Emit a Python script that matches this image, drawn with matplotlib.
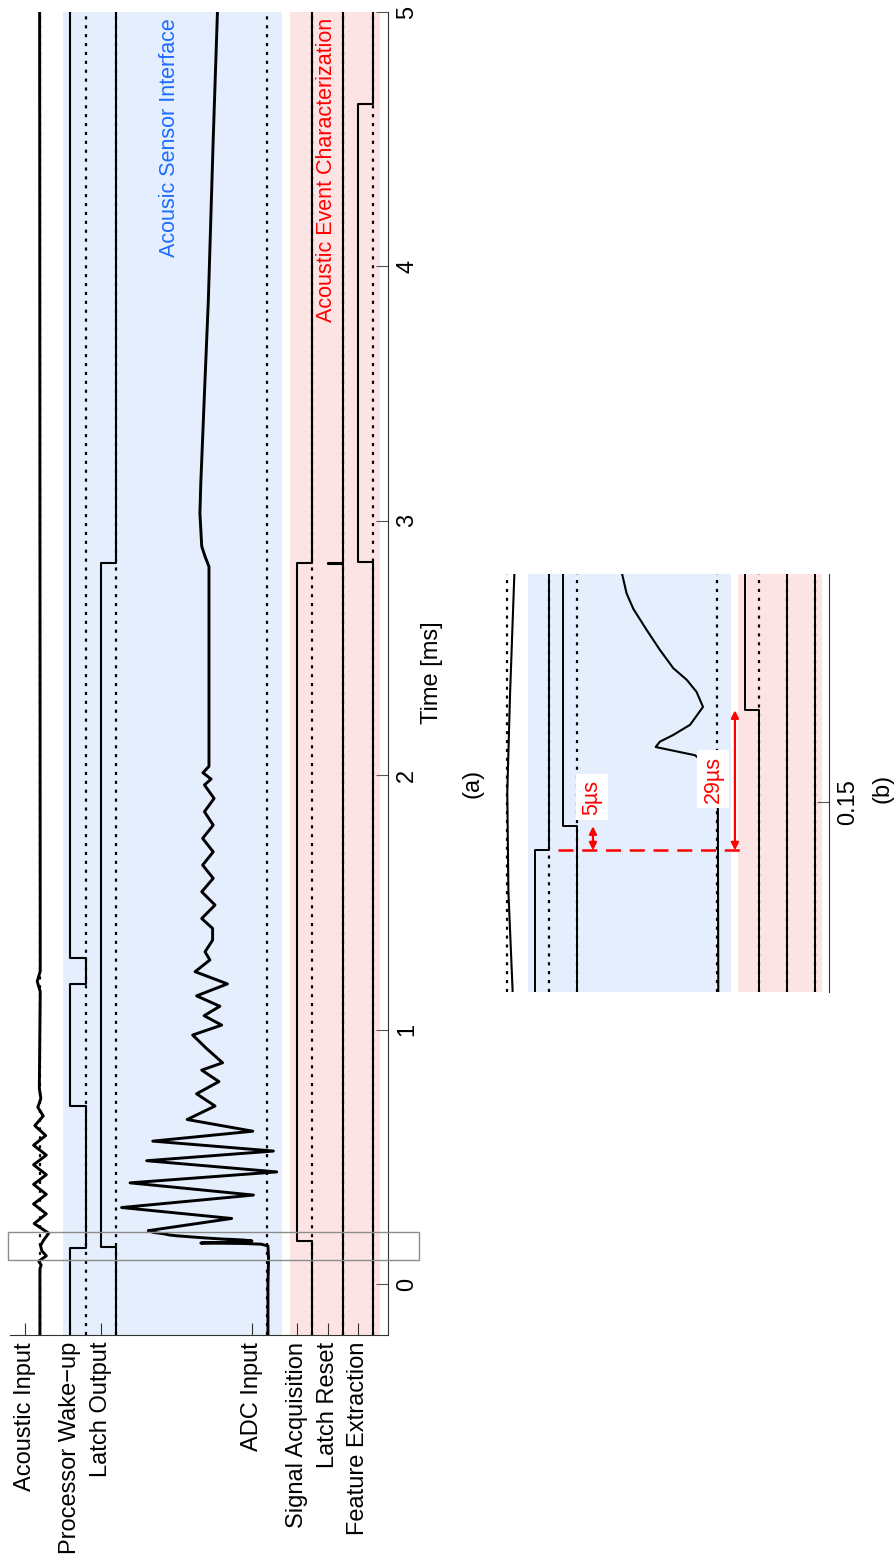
import numpy as np
import matplotlib
matplotlib.use("Agg")
import matplotlib.pyplot as plt
from matplotlib.patches import Rectangle

plt.rcParams["font.family"] = ["Liberation Sans", "DejaVu Sans"]

# channel rows (offset units) and their names
row_names = ["Acoustic Input", "Processor Wake\u2212up", "Latch Output", "ADC Input",
             "Signal Acquisition", "Latch Reset", "Feature Extraction"]
row_ticks = [12, 10.5, 9.5, 4.5, 3, 2, 1]
ref_levels = [11.5, 10, 9, 4, 2.5, 1.5, 0.5]

# event times [ms]
t_wake = 0.140
t_latch = 0.145
t_acq = 0.169

# digital lines: switching times and the level held after each one
wake_times = [-0.2, t_wake, 0.70, 1.18, 1.28, 5.0]
wake_levels = [10.5, 10, 10.5, 10, 10.5]
latch_times = [-0.2, t_latch, 2.833, 5.0]
latch_levels = [9, 9.5, 9]
acq_times = [-0.2, t_acq, 2.833, 5.0]
acq_levels = [2.5, 3, 2.5]
reset_times = [-0.2, 2.829, 2.835, 5.0]
reset_levels = [1.5, 2, 1.5]
feat_times = [-0.2, 2.839, 4.64, 5.0]
feat_levels = [0.5, 1, 0.5]

# microphone trace
mic_t = [-0.2, 0.06, 0.075, 0.09, 0.111, 0.1315, 0.152, 0.1725, 0.200, 0.238, 0.276,
         0.315, 0.353, 0.392, 0.430, 0.469, 0.507, 0.546, 0.584, 0.623, 0.661, 0.695,
         0.73, 0.77, 1.15, 1.19, 1.23, 5.0]
mic_v = [11.51, 11.51, 11.47, 11.55, 11.30, 11.45, 11.49, 11.39, 11.22, 11.70, 11.30,
         11.72, 11.30, 11.72, 11.30, 11.72, 11.30, 11.72, 11.32, 11.68, 11.40, 11.58,
         11.48, 11.53, 11.50, 11.60, 11.50, 11.52]

# ADC input trace
adc_t = [-0.2, 0.0, 0.10, 0.150, 0.157, 0.1597, 0.1614, 0.1625, 0.1639, 0.166, 0.1697,
         0.1728, 0.1753, 0.1777, 0.1815, 0.1856, 0.190, 0.1932, 0.1975, 0.203, 0.210,
         0.258, 0.301, 0.350, 0.398, 0.441, 0.485, 0.523, 0.562, 0.601, 0.647, 0.700,
         0.748, 0.796, 0.841, 0.870, 0.926, 0.979, 1.018, 1.055, 1.092, 1.133, 1.180,
         1.228, 1.274, 1.306, 1.352, 1.398, 1.437, 1.490, 1.542, 1.595, 1.647, 1.699,
         1.752, 1.804, 1.857, 1.909, 1.962, 1.985, 2.010, 2.035, 2.820, 2.860, 2.900,
         3.030, 3.150, 3.500, 3.870, 4.500, 5.0]
adc_v = [3.97, 3.97, 3.95, 3.97, 4.20, 4.79, 6.19, 6.04, 5.56, 4.96, 4.50,
         4.73, 5.08, 5.56, 6.04, 6.51, 6.99, 7.23, 7.40, 7.75, 7.93,
         5.17, 8.81, 4.45, 8.53, 3.68, 7.98, 3.79, 7.78, 4.47, 6.64, 5.72,
         6.33, 5.59, 6.16, 5.47, 6.00, 6.46, 5.50, 6.08, 5.56, 6.33, 5.31,
         6.38, 5.89, 6.05, 5.80, 5.80, 6.16, 5.72, 6.16, 5.78, 6.13, 5.78,
         6.13, 5.78, 6.07, 5.75, 6.07, 5.85, 6.12, 5.92, 5.92, 6.05, 6.16,
         6.22, 6.19, 6.07, 5.94, 5.78, 5.64]

blue_band = (3.5, 10.75)
red_band = (0.25, 3.25)
blue_fill = "#e4eefc"
red_fill = "#fde4e4"


def steps(times, levels):
    t = np.repeat(times, 2)[1:-1]
    v = np.repeat(levels, 2)
    return v, t


def draw_rows(ax, lw_step, lw_wave):
    ax.axvspan(*blue_band, color=blue_fill, lw=0, zorder=0)
    ax.axvspan(*red_band, color=red_fill, lw=0, zorder=0)
    for lv in ref_levels:
        ax.axvline(lv, color="k", lw=1.6, ls=(0, (1.4, 2.6)), zorder=1)
    for times, levels in [(wake_times, wake_levels), (latch_times, latch_levels),
                          (acq_times, acq_levels), (reset_times, reset_levels),
                          (feat_times, feat_levels)]:
        v, t = steps(times, levels)
        ax.plot(v, t, color="k", lw=lw_step, zorder=2)
    ax.plot(mic_v, mic_t, color="k", lw=lw_wave, zorder=2, solid_joinstyle="round")
    ax.plot(adc_v, adc_t, color="k", lw=lw_wave, zorder=2, solid_joinstyle="round")


W, H = 896, 1560
fig = plt.figure(figsize=(W / 100, H / 100), dpi=100)

# ---- (a) full record ----
ax = fig.add_axes([10 / W, (H - 1335) / H, 378 / W, 1323 / H])
draw_rows(ax, 1.5, 2.1)
ax.set_xlim(12.5, 0)
ax.set_ylim(-0.2, 5)
for s in ["top", "left"]:
    ax.spines[s].set_visible(False)
for s in ["right", "bottom"]:
    ax.spines[s].set_color("#333333")
    ax.spines[s].set_linewidth(0.8)
ax.set_xticks(row_ticks)
ax.set_xticklabels(row_names)
ax.set_yticks([0, 1, 2, 3, 4, 5])
ax.tick_params(axis="x", direction="in", length=9, width=0.8, color="#333333",
               labelrotation=90, labelsize=17, pad=5)
ax.tick_params(axis="y", direction="in", length=9, width=0.8, color="#555555",
               left=False, labelleft=False, right=True, labelright=True,
               labelrotation=90, labelsize=17, pad=6)
for lab in ax.get_yticklabels():
    lab.set_va("center")

ax.text(7.21, 4.975, "Acousic Sensor Interface", rotation=90, ha="center", va="top",
        color="#1f6bff", fontsize=15.5)
ax.text(2.02, 4.975, "Acoustic Event Characterization", rotation=90, ha="center",
        va="top", color="red", fontsize=15.5)
ax.add_patch(Rectangle((-1.03, 0.094), 13.6, 0.110, fill=False, edgecolor="#8c8c8c",
                       lw=1.0, clip_on=False, zorder=5))

# ---- (b) zoom on the wake-up sequence ----
axb = fig.add_axes([479 / W, (H - 992) / H, 350 / W, 418 / H])
draw_rows(axb, 1.4, 1.5)
axb.set_xlim(12.5, 0)
axb.set_ylim(0.1107, 0.1972)
for s in ["top", "left", "bottom"]:
    axb.spines[s].set_visible(False)
axb.spines["right"].set_color("#333333")
axb.spines["right"].set_linewidth(0.8)
axb.set_xticks([])
axb.set_yticks([0.15])
axb.set_yticklabels(["0.15"])
axb.tick_params(axis="y", direction="in", length=9, width=0.8, color="#555555",
                left=False, labelleft=False, right=True, labelright=True,
                labelrotation=90, labelsize=17, pad=6)
for lab in axb.get_yticklabels():
    lab.set_va("center")

arrow = dict(arrowstyle="<|-|>", color="red", lw=1.6, mutation_scale=11,
             shrinkA=0, shrinkB=0)
axb.plot([9.68, 2.89], [t_wake, t_wake], color="red", lw=1.8, ls=(0, (6, 3.5)), zorder=4)
axb.annotate("", xy=(8.43, t_wake), xytext=(8.43, t_latch), arrowprops=arrow, zorder=4)
axb.annotate("", xy=(3.36, t_wake), xytext=(3.36, t_acq), arrowprops=arrow, zorder=4)
box = dict(facecolor="white", edgecolor="none", pad=4)
axb.text(8.46, 0.151, f"{round((t_latch - t_wake) * 1000)}\u00b5s", rotation=90,
         ha="center", va="center", color="red", fontsize=15.5, bbox=box, zorder=6)
axb.text(4.13, 0.1547, f"{round((t_acq - t_wake) * 1000)}\u00b5s", rotation=90,
         ha="center", va="center", color="red", fontsize=15.5, bbox=box, zorder=6)

fig.text(432 / W, 1 - 673 / H, "Time [ms]", rotation=90, ha="center", va="center",
         fontsize=17)
fig.text(472 / W, 1 - 783 / H, "(a)", rotation=90, ha="center", va="center", fontsize=17)
fig.text(882 / W, 1 - 788 / H, "(b)", rotation=90, ha="center", va="center", fontsize=17)

fig.savefig("out.png", dpi=100)
